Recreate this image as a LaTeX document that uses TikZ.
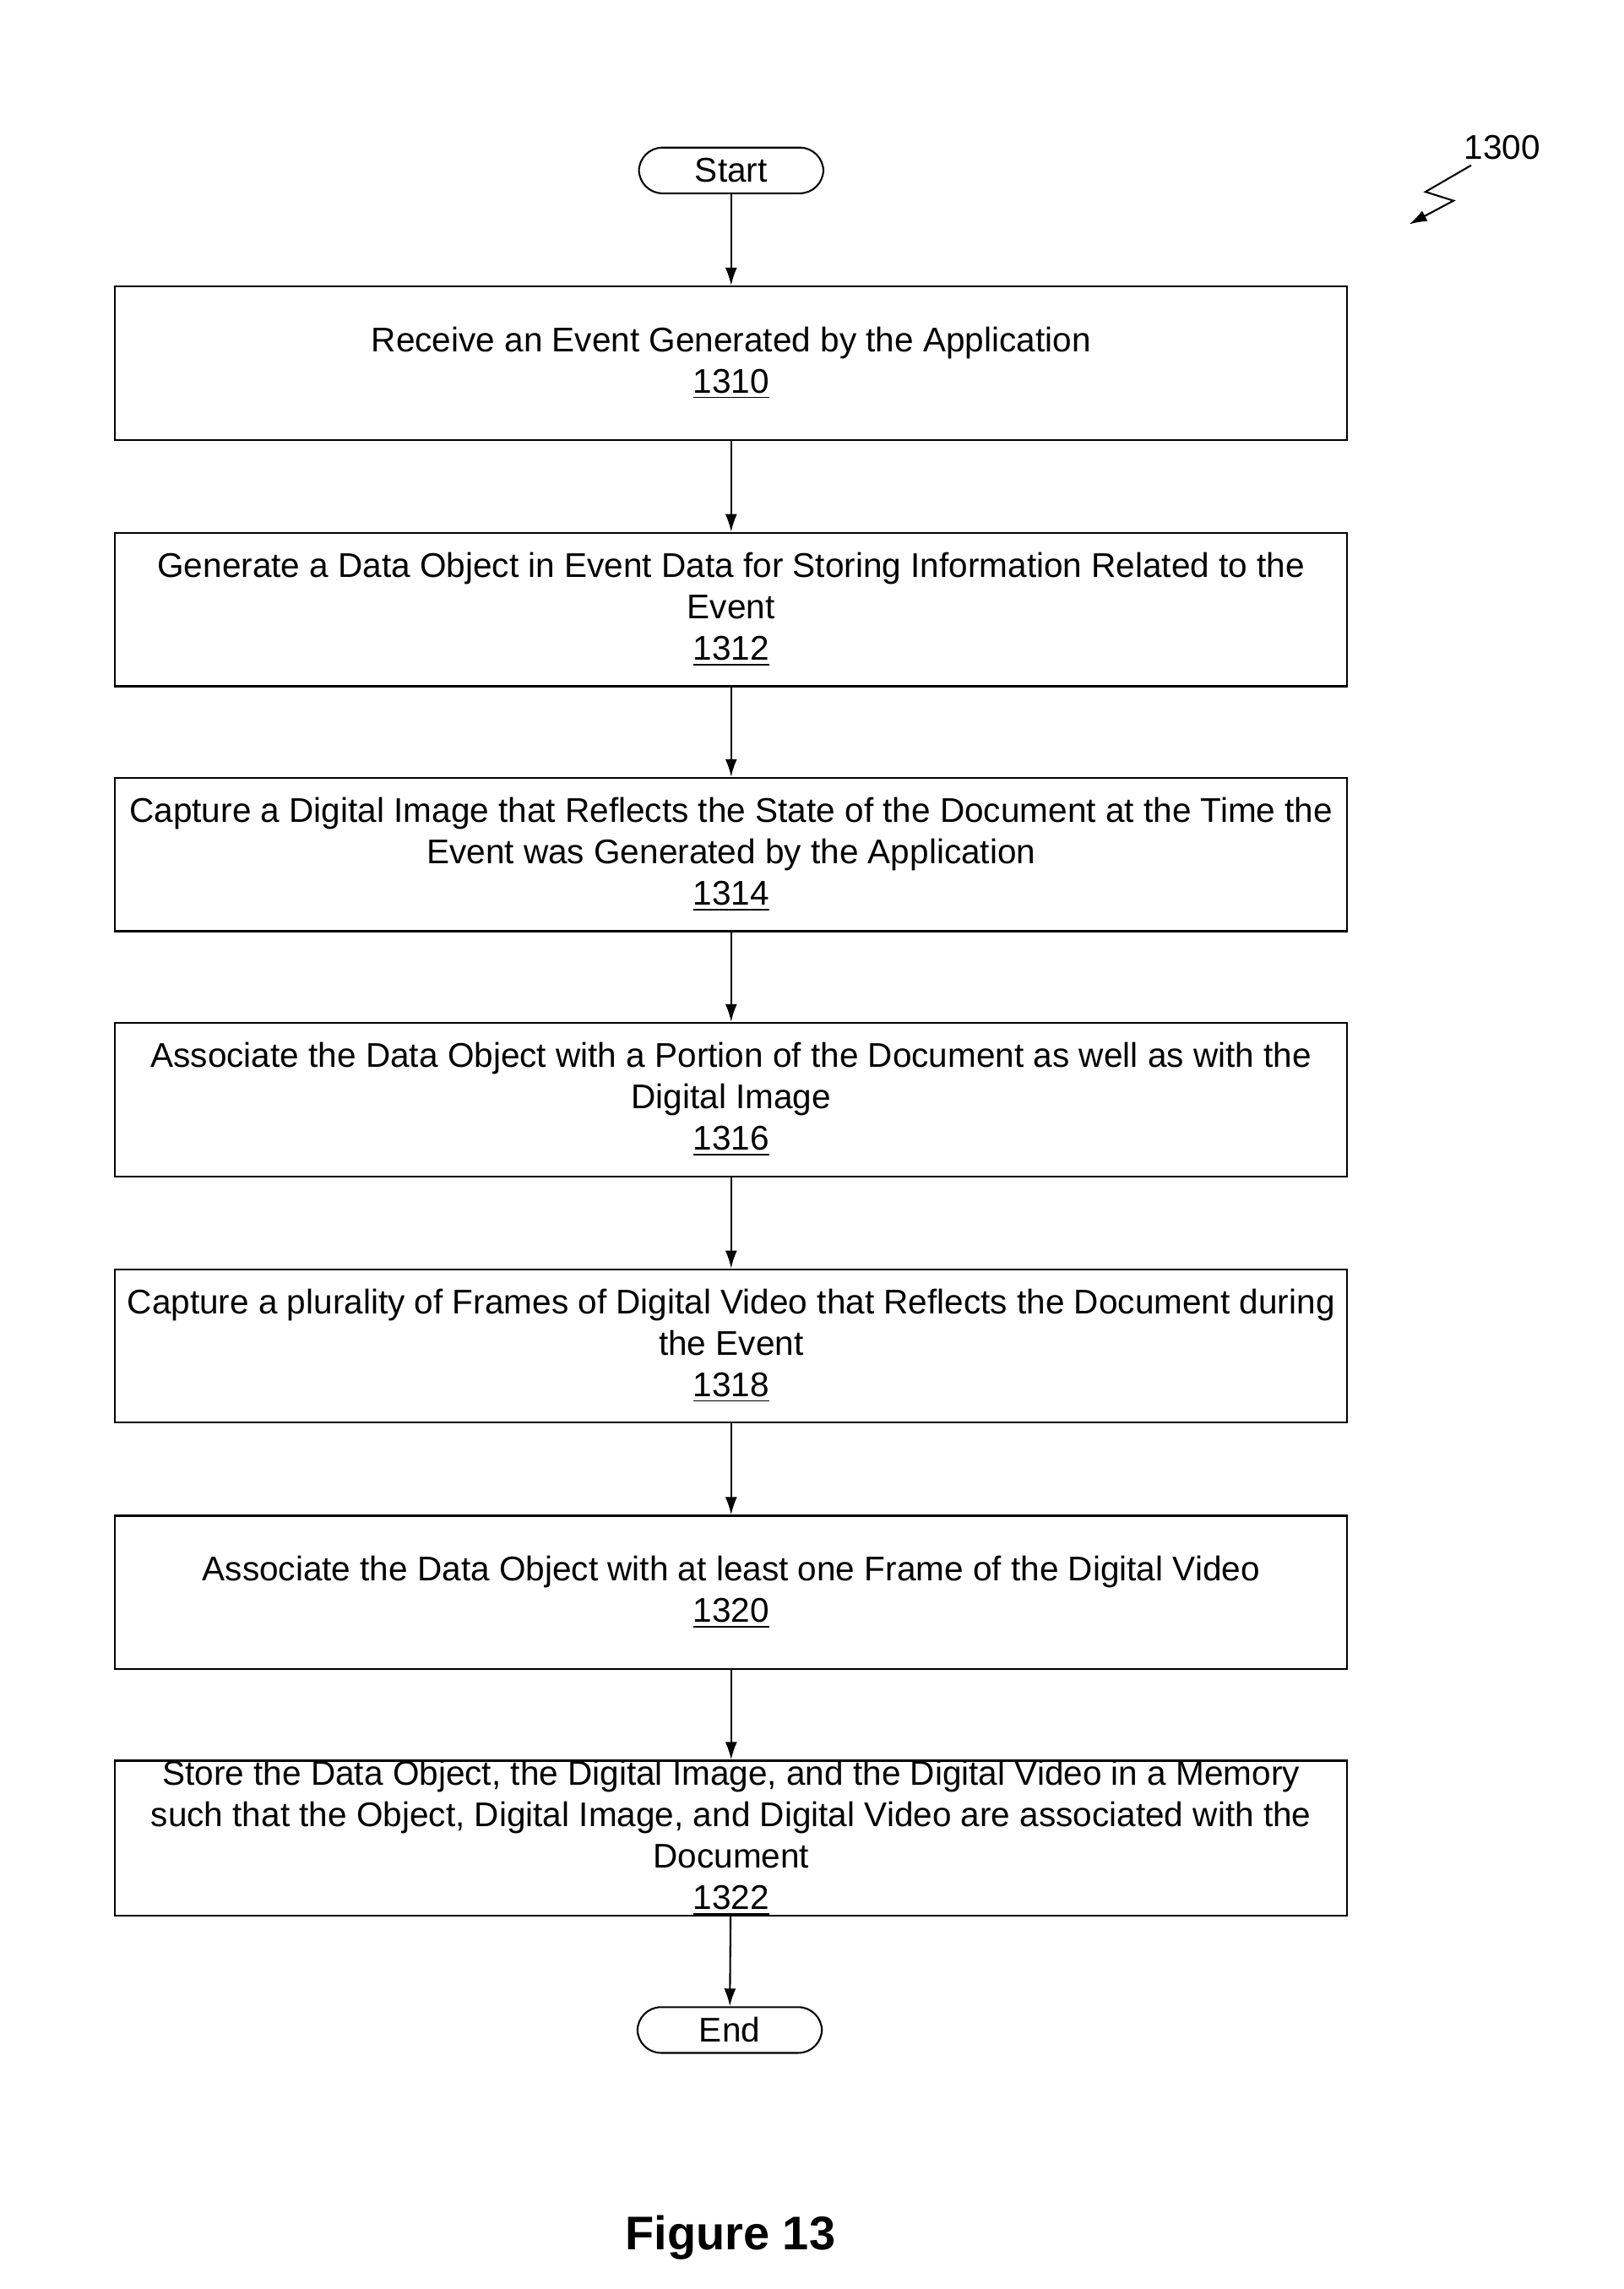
\documentclass[tikz,border=0pt]{standalone}
\usepackage{fontspec}
\setmainfont{Liberation Sans}
\usetikzlibrary{arrows.meta}
\begin{document}
\begin{tikzpicture}[x=0.5pt,y=-0.5pt,
  box/.style={draw,line width=0.6pt,minimum width=417.5pt,minimum height=52pt,align=center,font=\fontsize{11.6}{14}\selectfont,inner sep=0pt},
  term/.style={draw,line width=0.6pt,rounded corners=8pt,minimum width=62.5pt,minimum height=15.5pt,font=\fontsize{11.6}{14}\selectfont,inner sep=0pt},
  arr/.style={-{Latex[length=6pt,width=4pt]},line width=0.6pt}]
\useasboundingbox (0,0) rectangle (1100,1551);
\node[term] (s) at (495.5,115.5) {Start};
\node[box] (b1) at (495.5,246) {Receive an Event Generated by the Application\\\underline{1310}};
\node[box] (b2) at (495.5,413) {Generate a Data Object in Event Data for Storing Information Related to the\\Event\\\underline{1312}};
\node[box] (b3) at (495.5,579) {Capture a Digital Image that Reflects the State of the Document at the Time the\\Event was Generated by the Application\\\underline{1314}};
\node[box] (b4) at (495.5,745) {Associate the Data Object with a Portion of the Document as well as with the\\Digital Image\\\underline{1316}};
\node[box] (b5) at (495.5,912) {Capture a plurality of Frames of Digital Video that Reflects the Document during\\the Event\\\underline{1318}};
\node[box] (b6) at (495.5,1079) {Associate the Data Object with at least one Frame of the Digital Video\\\underline{1320}};
\node[box] (b7) at (495.5,1245.5) {Store the Data Object, the Digital Image, and the Digital Video in a Memory\\such that the Object, Digital Image, and Digital Video are associated with the\\Document\\\underline{1322}};
\node[term] (e) at (494.5,1375.5) {End};
\draw[arr] (s) -- (b1);
\draw[arr] (b1) -- (b2);
\draw[arr] (b2) -- (b3);
\draw[arr] (b3) -- (b4);
\draw[arr] (b4) -- (b5);
\draw[arr] (b5) -- (b6);
\draw[arr] (b6) -- (b7);
\draw[arr] (b7) -- (e);
\node[font=\fontsize{11.6}{14}\selectfont] (lbl) at (1018,100) {1300};
\coordinate (q0) at (997,112);
\coordinate (q1) at (966,130);
\coordinate (q2) at (985,136);
\coordinate (q3) at (955,152);
\draw[arr] (q0) -- (q1) -- (q2) -- (q3);
\node[font=\fontsize{16}{18}\selectfont\bfseries] (fig) at (495,1516) {Figure 13};
\end{tikzpicture}
\end{document}
